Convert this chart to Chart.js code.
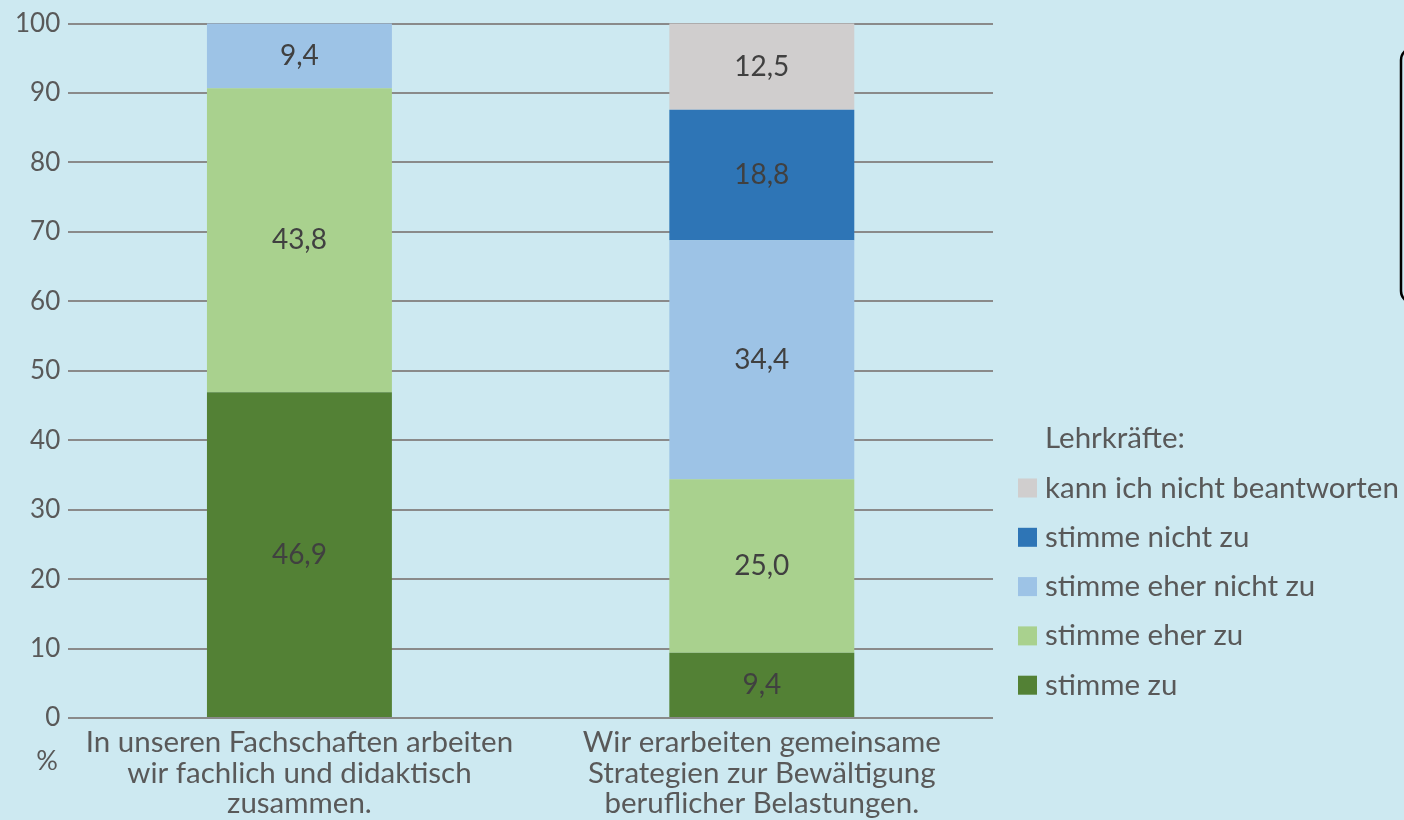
<!DOCTYPE html>
<html>
<head>
<meta charset="utf-8">
<script src="https://cdn.jsdelivr.net/npm/chart.js@4/dist/chart.umd.min.js"></script>
<style>
  html, body { margin: 0; padding: 0; background: #cde9f1; }
  #wrap { width: 1404px; height: 820px; }
</style>
</head>
<body>
<div id="wrap"><canvas id="chart"></canvas></div>
<script>
const categories = [
  ['In unseren Fachschaften arbeiten', 'wir fachlich und didaktisch', 'zusammen.'],
  ['Wir erarbeiten gemeinsame', 'Strategien zur Bewältigung', 'beruflicher Belastungen.']
];
const seriesNames = ['stimme zu', 'stimme eher zu', 'stimme eher nicht zu', 'stimme nicht zu', 'kann ich nicht beantworten'];
const stimmeZu = [46.9, 9.4];
const eherZu = [43.8, 25.0];
const eherNichtZu = [9.4, 34.4];
const nichtZu = [0, 18.8];
const kannNicht = [0, 12.5];
const yTicks = [0, 10, 20, 30, 40, 50, 60, 70, 80, 90, 100];
const legendTitle = 'Lehrkräfte:';

const colors = ['#538135', '#a9d18e', '#9dc3e6', '#2e75b6', '#d0cece'];
const FONT = 'Lato, "Open Sans", sans-serif';
const textColor = '#595959';

// value labels in the middle of each segment
const segmentLabels = {
  id: 'segmentLabels',
  afterDatasetsDraw(chart) {
    const ctx = chart.ctx;
    ctx.save();
    ctx.font = '28px ' + FONT;
    ctx.fillStyle = '#404040';
    ctx.textAlign = 'center';
    ctx.textBaseline = 'middle';
    chart.data.datasets.forEach((ds, i) => {
      const meta = chart.getDatasetMeta(i);
      meta.data.forEach((bar, j) => {
        const v = ds.data[j];
        if (!v) return;
        const y = (Math.max(bar.y, chart.chartArea.top) + bar.base) / 2;
        ctx.fillText(v.toFixed(1).replace('.', ','), bar.x, y);
      });
    });
    ctx.restore();
  }
};

// legend on the right, "%" under the axis and the cut off frame at the top right
const extras = {
  id: 'extras',
  afterDraw(chart) {
    const ctx = chart.ctx;
    const area = chart.chartArea;
    ctx.save();
    ctx.font = '29.5px ' + FONT;
    ctx.fillStyle = textColor;
    ctx.textBaseline = 'middle';
    ctx.textAlign = 'left';
    const lx = area.right + 25;
    ctx.fillText(legendTitle, lx + 27, 438);
    const n = chart.data.datasets.length;
    for (let k = 0; k < n; k++) {
      const ds = chart.data.datasets[n - 1 - k];
      const y = 488 + k * 49.3;
      ctx.fillStyle = ds.backgroundColor;
      ctx.fillRect(lx, y - 9.5, 19, 19);
      ctx.fillStyle = textColor;
      ctx.fillText(ds.label, lx + 27, y);
    }
    ctx.textAlign = 'center';
    ctx.font = '27px ' + FONT;
    ctx.fillText('%', 47, 761);

    ctx.strokeStyle = '#000';
    ctx.lineWidth = 2.5;
    ctx.beginPath();
    ctx.roundRect(1401, 48, 60, 255, 12);
    ctx.stroke();
    ctx.restore();
  }
};

const datasets = [stimmeZu, eherZu, eherNichtZu, nichtZu, kannNicht].map((d, i) => ({
  label: seriesNames[i],
  data: d,
  backgroundColor: colors[i],
  borderWidth: 0
}));

new Chart(document.getElementById('chart'), {
  type: 'bar',
  data: { labels: categories, datasets: datasets },
  options: {
    responsive: true,
    maintainAspectRatio: false,
    animation: false,
    layout: { padding: { left: 7, right: 411, top: 7, bottom: 0 } },
    datasets: { bar: { categoryPercentage: 1, barPercentage: 0.4 } },
    plugins: {
      legend: { display: false },
      tooltip: { enabled: false }
    },
    scales: {
      x: {
        stacked: true,
        afterFit(scale) { scale.height = 102; },
        grid: { display: false },
        border: { display: false },
        ticks: {
          color: textColor,
          font: { family: FONT, size: 29.5, lineHeight: 1.04 },
          padding: 1,
          maxRotation: 0
        }
      },
      y: {
        stacked: true,
        min: 0,
        max: 100,
        afterBuildTicks(axis) { axis.ticks = yTicks.map(v => ({ value: v })); },
        grid: { color: '#8a8a8a', lineWidth: 2, drawTicks: false },
        border: { display: false },
        ticks: {
          color: textColor,
          font: { family: FONT, size: 26 },
          padding: 8
        }
      }
    }
  },
  plugins: [segmentLabels, extras]
});
</script>
</body>
</html>
